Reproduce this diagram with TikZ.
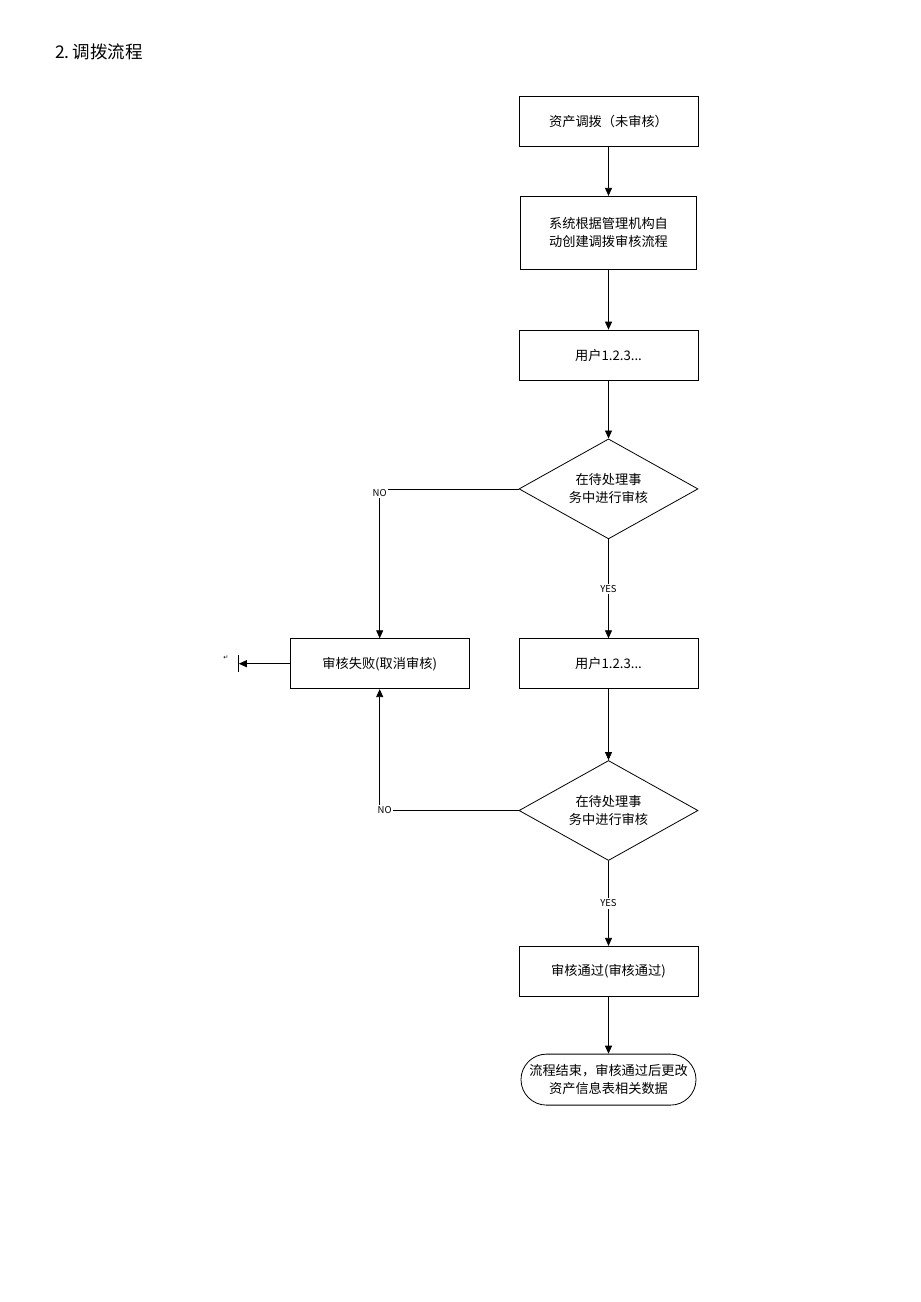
\documentclass[tikz,border=0pt]{standalone}
\usepackage{fontspec}
\setmainfont{Noto Sans CJK SC}
\newfontfamily\symfont{DejaVu Sans}
\usetikzlibrary{arrows.meta,shapes.geometric,shapes.misc,positioning}
\tikzstyle{post}=[-{Triangle[length=8bp,width=7bp]},line width=0.8bp]
\tikzstyle{proc}=[draw,line width=0.8bp,minimum width=179bp,minimum height=50bp,align=center]
\tikzstyle{decide}=[diamond,draw,line width=0.8bp,minimum width=179bp,minimum height=100bp,aspect=1.79,inner sep=1bp,align=center]
\tikzstyle{term}=[rounded rectangle,draw,line width=0.8bp,minimum width=179bp,minimum height=51bp,inner xsep=2bp,align=center]
\tikzstyle{lbl}=[fill=white,inner sep=1.5bp,font=\fontsize{9.5bp}{11bp}\selectfont]

\begin{document}
\begin{tikzpicture}[x=1bp,y=-1bp,font=\fontsize{13.2bp}{18bp}\selectfont]
    \useasboundingbox (0,0) rectangle (920,1302);
    \node (title) [anchor=west, inner sep=0pt] at (55,52) {\fontsize{17.5bp}{19bp}\selectfont 2.\,调拨流程};

    \node (start) [proc] at (608.5,121.5) {资产调拨（未审核）};
    \node (auto) [proc, minimum width=176bp, minimum height=73bp] [below=49bp of start] {系统根据管理机构自\\动创建调拨审核流程};
    \node (user1) [proc] [below=60bp of auto] {用户1.2.3...};
    \node (check1) [decide] [below=58bp of user1] {在待处理事\\务中进行审核};
    \node (user2) [proc] [below=99bp of check1] {用户1.2.3...};
    \node (fail) [proc] [left=49bp of user2] {审核失败(取消审核)};
    \node (check2) [decide] [below=71bp of user2] {在待处理事\\务中进行审核};
    \node (pass) [proc] [below=85bp of check2] {审核通过(审核通过)};
    \node (finish) [term] [below=57bp of pass] {流程结束，审核通过后更改\\资产信息表相关数据};

    \path[post] (start) edge (auto);
    \path[post] (auto) edge (user1);
    \path[post] (user1) edge (check1);
    \draw[post] (check1) -- node[lbl] {YES} (user2);
    \path[post] (user2) edge (check2);
    \draw[post] (check2) -- node[lbl] {YES} (pass);
    \path[post] (pass) edge (finish);
    \draw[post] (check1.west) -| node[lbl, pos=0.5, yshift=-4bp] {NO} (fail.north);
    \draw[post] (check2.west) -| node[lbl, pos=0.5, xshift=5bp] {NO} (fail.south);

    % left exit of the failed box
    \coordinate (failend) at ([xshift=-51bp]fail.west);
    \draw[post] (fail.west) -- (failend);
    \draw[line width=0.8bp] ([yshift=-8bp]failend) -- ([yshift=9bp]failend);
    \node (mark) at ([xshift=-13bp,yshift=6bp]failend) {\symfont\fontsize{6bp}{7bp}\selectfont ↵};
\end{tikzpicture}
\end{document}
